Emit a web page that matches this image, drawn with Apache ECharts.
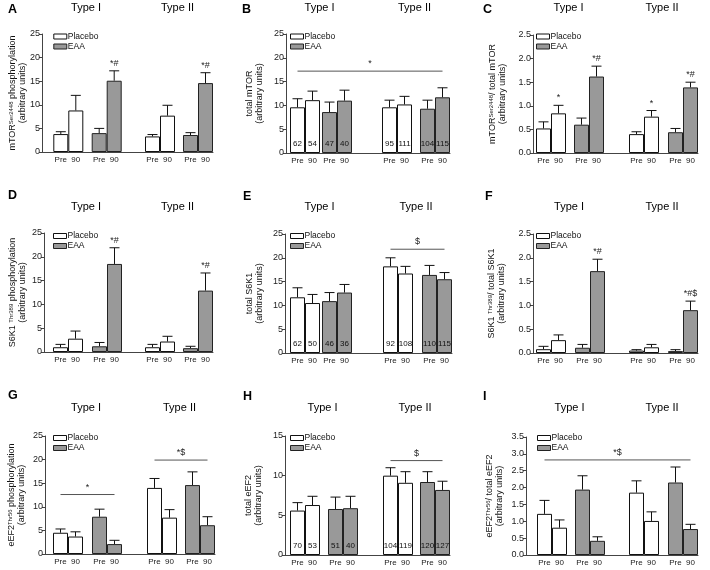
<!DOCTYPE html>
<html><head><meta charset="utf-8">
<script src="https://cdn.jsdelivr.net/npm/echarts@6/dist/echarts.min.js"></script>
<style>html,body{margin:0;padding:0;background:#fff}#c{width:710px;height:570px}</style>
</head><body><div id="c"></div>
<script>
// ---------- DATA ----------
const typeNames = ['Type I', 'Type II'];
const treatments = ['Placebo', 'EAA'];
const timePoints = ['Pre', '90'];
// every 8-value array: Type I Placebo Pre, Placebo 90, EAA Pre, EAA 90, Type II Placebo Pre, Placebo 90, EAA Pre, EAA 90
const ticks25 = [0, 5, 10, 15, 20, 25];
const ticks15 = [0, 5, 10, 15];
const ticks2p5 = [0, 0.5, 1.0, 1.5, 2.0, 2.5];
const ticks3p5 = [0, 0.5, 1.0, 1.5, 2.0, 2.5, 3.0, 3.5];

const mtorPhosMean  = [3.8, 8.8, 4.0, 15.1, 3.3, 7.7, 3.6, 14.6];
const mtorPhosSem   = [0.5, 3.2, 1.0, 2.1, 0.4, 2.2, 0.5, 2.2];
const mtorPhosMarks = ['', '', '', '*#', '', '', '', '*#'];

const mtorTotalMean = [9.6, 11.1, 8.6, 11.0, 9.6, 10.2, 9.3, 11.7];
const mtorTotalSem  = [1.8, 1.9, 2.1, 2.2, 1.5, 1.7, 1.8, 2.0];
const mtorTotalN    = [62, 54, 47, 40, 95, 111, 104, 115];
const mtorTotalBrackets = [[0, 7, 17.2, '*']];

const mtorRatioMean  = [0.52, 0.84, 0.60, 1.62, 0.40, 0.77, 0.44, 1.39];
const mtorRatioSem   = [0.14, 0.17, 0.14, 0.22, 0.05, 0.13, 0.08, 0.11];
const mtorRatioMarks = ['', '*', '', '*#', '', '*', '', '*#'];

const s6k1PhosMean  = [1.0, 2.8, 1.2, 18.5, 1.0, 2.2, 0.8, 12.9];
const s6k1PhosSem   = [0.6, 1.6, 0.8, 3.4, 0.6, 1.1, 0.4, 3.7];
const s6k1PhosMarks = ['', '', '', '*#', '', '', '', '*#'];

const s6k1TotalMean = [11.7, 10.5, 10.9, 12.7, 18.2, 16.7, 16.4, 15.5];
const s6k1TotalSem  = [2.0, 1.8, 1.8, 1.7, 1.8, 1.5, 2.0, 1.4];
const s6k1TotalN    = [62, 50, 46, 36, 92, 108, 110, 115];
const s6k1TotalBrackets = [[4, 7, 21.8, '$']];

const s6k1RatioMean  = [0.08, 0.27, 0.11, 1.72, 0.05, 0.12, 0.04, 0.90];
const s6k1RatioSem   = [0.06, 0.11, 0.07, 0.25, 0.02, 0.06, 0.03, 0.19];
const s6k1RatioMarks = ['', '', '', '*#', '', '', '', '*#$'];

const eef2PhosMean = [4.5, 3.7, 7.9, 2.1, 14.0, 7.7, 14.6, 6.1];
const eef2PhosSem  = [0.8, 1.0, 1.6, 0.8, 2.0, 1.7, 2.8, 1.8];
const eef2PhosBrackets = [[0, 3, 12.6, '*'], [4, 7, 19.9, '*$']];

const eef2TotalMean = [5.6, 6.3, 5.8, 5.9, 10.0, 9.1, 9.2, 8.2];
const eef2TotalSem  = [1.0, 1.1, 1.5, 1.5, 1.0, 1.4, 1.3, 1.1];
const eef2TotalN    = [70, 53, 51, 40, 104, 119, 120, 127];
const eef2TotalBrackets = [[4, 7, 11.9, '$']];

const eef2RatioMean = [1.22, 0.81, 1.94, 0.42, 1.85, 1.01, 2.15, 0.77];
const eef2RatioSem  = [0.40, 0.23, 0.41, 0.12, 0.35, 0.27, 0.46, 0.14];
const eef2RatioBrackets = [[0, 7, 2.82, '*$']];

const panels = [
  {letter: 'A', mean: mtorPhosMean, sem: mtorPhosSem, marks: mtorPhosMarks, ticks: ticks25, dec: 0, yName: ['mTOR', 'Ser2448', ' phosphorylation']},
  {letter: 'B', mean: mtorTotalMean, sem: mtorTotalSem, n: mtorTotalN, brackets: mtorTotalBrackets, ticks: ticks25, dec: 0, yName: ['total mTOR', '', '']},
  {letter: 'C', mean: mtorRatioMean, sem: mtorRatioSem, marks: mtorRatioMarks, ticks: ticks2p5, dec: 1, yName: ['mTOR', 'Ser2448', '/ total mTOR']},
  {letter: 'D', mean: s6k1PhosMean, sem: s6k1PhosSem, marks: s6k1PhosMarks, ticks: ticks25, dec: 0, yName: ['S6K1 ', 'Thr389', ' phosphorylation']},
  {letter: 'E', mean: s6k1TotalMean, sem: s6k1TotalSem, n: s6k1TotalN, brackets: s6k1TotalBrackets, ticks: ticks25, dec: 0, yName: ['total S6K1', '', '']},
  {letter: 'F', mean: s6k1RatioMean, sem: s6k1RatioSem, marks: s6k1RatioMarks, ticks: ticks2p5, dec: 1, yName: ['S6K1 ', 'Thr389', '/ total S6K1']},
  {letter: 'G', mean: eef2PhosMean, sem: eef2PhosSem, brackets: eef2PhosBrackets, ticks: ticks25, dec: 0, yName: ['eEF2', 'Thr56', ' phosphorylation']},
  {letter: 'H', mean: eef2TotalMean, sem: eef2TotalSem, n: eef2TotalN, brackets: eef2TotalBrackets, ticks: ticks15, dec: 0, yName: ['total eEF2', '', '']},
  {letter: 'I', mean: eef2RatioMean, sem: eef2RatioSem, brackets: eef2RatioBrackets, ticks: ticks3p5, dec: 1, yName: ['eEF2', 'Thr56', '/ total eEF2']}
];

// ---------- LAYOUT (pixels) ----------
const layout = [
  {axisX: 42, top: 34, bottom: 152, end: 213, centers: [68.3, 106.7, 160, 198], nameGap: 14, letterXY: [8, 10], titleY: 8, legendY: 36.5},
  {axisX: 286, top: 34, bottom: 153, end: 450, centers: [305, 337, 397, 435], nameGap: 21, letterXY: [242, 10], titleY: 8, legendY: 36.5},
  {axisX: 533, top: 35, bottom: 153, end: 698, centers: [551, 589, 644, 683], nameGap: 25, letterXY: [483, 10], titleY: 8, legendY: 36.5},
  {axisX: 44, top: 233, bottom: 352, end: 213, centers: [68, 107, 160, 198], nameGap: 16, letterXY: [8, 196], titleY: 207, legendY: 236},
  {axisX: 285, top: 234, bottom: 353, end: 452, centers: [305, 337, 398, 437], nameGap: 20, letterXY: [243, 197], titleY: 207, legendY: 236},
  {axisX: 533, top: 234, bottom: 353, end: 698, centers: [551, 590, 644, 683], nameGap: 26, letterXY: [485, 197], titleY: 207, legendY: 236},
  {axisX: 45, top: 436, bottom: 554, end: 215, centers: [68, 107, 162, 200], nameGap: 18, letterXY: [8, 396], titleY: 408, legendY: 438},
  {axisX: 285, top: 436, bottom: 555, end: 450, centers: [305, 343, 398, 435], nameGap: 21, letterXY: [243, 397], titleY: 408, legendY: 438},
  {axisX: 526, top: 437, bottom: 555, end: 698, centers: [552, 590, 644, 683], nameGap: 21, letterXY: [483, 397], titleY: 408, legendY: 438}
];

const FONT = '"Liberation Sans", Arial, sans-serif';
const axisColor = '#444';
const barStyles = [
  {color: '#ffffff', borderColor: '#111', borderWidth: 1},
  {color: '#999999', borderColor: '#222', borderWidth: 1}
];

const chart = echarts.init(document.getElementById('c'), null, {renderer: 'canvas'});
const grid = [], xAxis = [], yAxis = [], series = [], legend = [];

panels.forEach((p, pi) => {
  const L = layout[pi];
  const base = pi * 5;
  const ymin = p.ticks[0], ymax = p.ticks[p.ticks.length - 1], step = p.ticks[1] - p.ticks[0];
  const nameStr = '{a|' + p.yName[0] + '}' + (p.yName[1] ? '{s|' + p.yName[1] + '}' : '') + (p.yName[2] ? '{a|' + p.yName[2] + '}' : '') + '\n{a|(arbitrary units)}';
  grid.push({left: L.axisX, top: L.top, width: L.end - L.axisX, height: L.bottom - L.top, outerBoundsMode: 'none', containLabel: false});
  xAxis.push({gridIndex: base, type: 'value', min: 0, max: 1, axisLine: {show: true, onZero: false, lineStyle: {color: axisColor, width: 1}}, axisTick: {show: false}, axisLabel: {show: false}, splitLine: {show: false}});
  yAxis.push({
    gridIndex: base, type: 'value', min: ymin, max: ymax, interval: step,
    axisLine: {show: true, lineStyle: {color: axisColor, width: 1}},
    axisTick: {show: true, length: 3, inside: false, lineStyle: {color: axisColor}},
    axisLabel: {fontSize: 9, margin: 2, color: '#222', fontFamily: FONT, formatter: v => v.toFixed(p.dec)},
    splitLine: {show: false},
    name: nameStr, nameLocation: 'middle', nameGap: L.nameGap, nameMoveOverlap: false,
    nameTextStyle: {fontFamily: FONT, color: '#111', lineHeight: 10,
      rich: {a: {fontSize: 9, lineHeight: 10, fontFamily: FONT, color: '#111'},
             s: {fontSize: 6, lineHeight: 10, verticalAlign: 'top', fontFamily: FONT, color: '#111'}}}
  });
  for (let j = 0; j < 4; j++) {
    const gi = base + 1 + j;
    const tr = j % 2;
    const idx = [2 * j, 2 * j + 1];
    grid.push({left: L.centers[j] - 15, top: L.top, width: 30, height: L.bottom - L.top, outerBoundsMode: 'none', containLabel: false});
    xAxis.push({gridIndex: gi, type: 'category', data: timePoints, axisLine: {show: false}, axisTick: {show: false},
      axisLabel: {fontSize: 8, margin: 4, color: '#222', interval: 0, fontFamily: FONT}});
    yAxis.push({gridIndex: gi, type: 'value', min: ymin, max: ymax, interval: step, show: false});
    series.push({
      type: 'bar', name: treatments[tr], xAxisIndex: gi, yAxisIndex: gi, barCategoryGap: '0%',
      data: idx.map(k => p.mean[k]), itemStyle: barStyles[tr], z: 2,
      label: p.n ? {show: true, position: 'insideBottom', distance: 5, fontSize: 8, color: '#111', fontFamily: FONT,
        formatter: q => String(p.n[idx[q.dataIndex]])} : {show: false},
      emphasis: {disabled: true}
    });
    series.push({
      type: 'custom', xAxisIndex: gi, yAxisIndex: gi, silent: true, z: 3,
      data: idx.map((k, t) => [t, p.mean[k], p.sem[k]]),
      encode: {x: 0, y: 1},
      renderItem: (params, api) => {
        const x = api.value(0), m = api.value(1), s = api.value(2);
        const p0 = api.coord([x, m]);
        const p1 = api.coord([x, m + s]);
        const children = [
          {type: 'line', shape: {x1: p0[0], y1: p0[1], x2: p1[0], y2: p1[1]}, style: {stroke: '#111', lineWidth: 1}},
          {type: 'line', shape: {x1: p1[0] - 5, y1: p1[1], x2: p1[0] + 5, y2: p1[1]}, style: {stroke: '#111', lineWidth: 1}}
        ];
        const mk = p.marks ? p.marks[idx[params.dataIndex]] : '';
        if (mk) {
          children.push({type: 'text', x: p1[0], y: p1[1] - 3,
            style: {text: mk, fill: '#222', font: '9px ' + FONT, textAlign: 'center', textVerticalAlign: 'bottom', align: 'center', verticalAlign: 'bottom'}});
        }
        return {type: 'group', children};
      }
    });
  }
  legend.push({
    data: [{name: 'Placebo', itemStyle: barStyles[0]}, {name: 'EAA', itemStyle: barStyles[1]}],
    orient: 'vertical', left: L.centers[0] - 15, top: L.legendY - 5, padding: 0, itemGap: 0,
    itemWidth: 13, itemHeight: 5, icon: 'rect', selectedMode: false,
    textStyle: {fontSize: 8.5, lineHeight: 10, color: '#111', fontFamily: FONT, padding: [0, 0, 0, -4]}
  });
});

chart.setOption({
  animation: false,
  textStyle: {fontFamily: FONT},
  grid, xAxis, yAxis, series, legend
});

// titles, letters and significance brackets (positions from the chart's own scales)
const gfx = [];
panels.forEach((p, pi) => {
  const L = layout[pi];
  gfx.push({type: 'text', x: L.letterXY[0], y: L.letterXY[1],
    style: {text: p.letter, font: 'bold 12.5px ' + FONT, fill: '#000', textVerticalAlign: 'middle', verticalAlign: 'middle'}});
  for (let t = 0; t < 2; t++) {
    const cx = (L.centers[2 * t] + L.centers[2 * t + 1]) / 2 - 1.5;
    gfx.push({type: 'text', x: cx, y: L.titleY,
      style: {text: typeNames[t], font: '11px ' + FONT, fill: '#000', textAlign: 'center', textVerticalAlign: 'middle', align: 'center', verticalAlign: 'middle'}});
  }
  (p.brackets || []).forEach(([a, b, v, txt]) => {
    const ga = pi * 5 + 1 + Math.floor(a / 2), gb = pi * 5 + 1 + Math.floor(b / 2);
    const pa = chart.convertToPixel({xAxisIndex: ga, yAxisIndex: ga}, [a % 2, v]);
    const pb = chart.convertToPixel({xAxisIndex: gb, yAxisIndex: gb}, [b % 2, v]);
    gfx.push({type: 'line', shape: {x1: pa[0], y1: pa[1], x2: pb[0], y2: pb[1]}, style: {stroke: '#555', lineWidth: 1}});
    gfx.push({type: 'text', x: (pa[0] + pb[0]) / 2, y: pa[1] - 3,
      style: {text: txt, font: '9px ' + FONT, fill: '#222', textAlign: 'center', textVerticalAlign: 'bottom', align: 'center', verticalAlign: 'bottom'}});
  });
});
chart.setOption({graphic: gfx});
</script>
</body></html>
